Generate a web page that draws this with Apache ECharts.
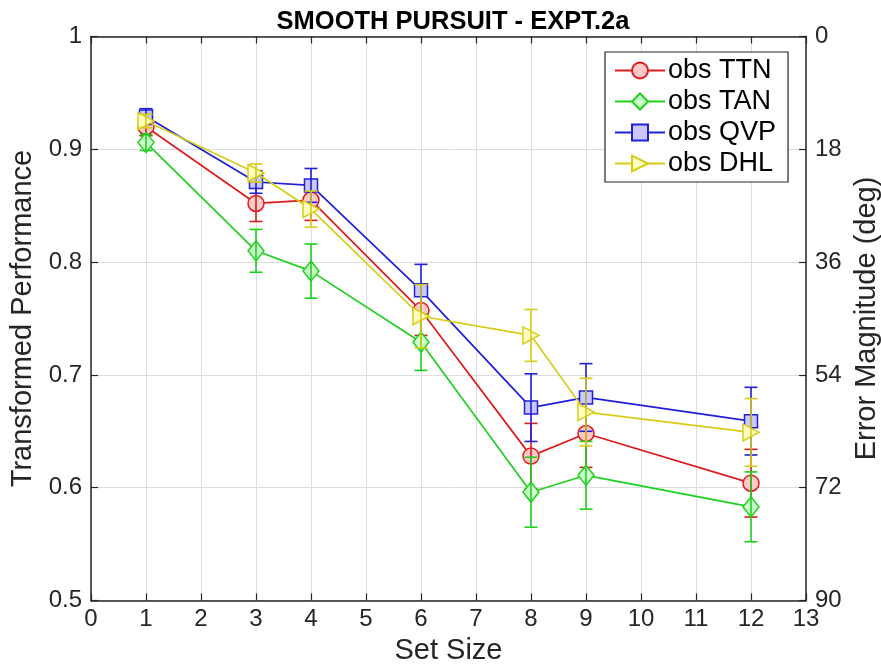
<!DOCTYPE html>
<html>
<head>
<meta charset="utf-8">
<title>Smooth Pursuit - Expt.2a</title>
<script src="https://cdn.jsdelivr.net/npm/echarts@6/dist/echarts.min.js"></script>
<style>
  html, body { margin: 0; padding: 0; background: #fff; }
  #main { width: 881px; height: 664px; }
</style>
</head>
<body>
<div id="main"></div>
<script>
var setSizes = [1, 3, 4, 6, 8, 9, 12];
var ttn = [0.920, 0.852, 0.855, 0.757, 0.628, 0.648, 0.604];
var ttnErr = [0.008, 0.016, 0.018, 0.022, 0.029, 0.030, 0.030];
var tan = [0.906, 0.810, 0.792, 0.729, 0.596, 0.611, 0.583];
var tanErr = [0.007, 0.019, 0.024, 0.025, 0.031, 0.030, 0.031];
var qvp = [0.929, 0.871, 0.868, 0.775, 0.671, 0.680, 0.659];
var qvpErr = [0.007, 0.010, 0.015, 0.023, 0.030, 0.030, 0.030];
var dhl = [0.925, 0.879, 0.847, 0.752, 0.735, 0.667, 0.649];
var dhlErr = [0.006, 0.008, 0.016, 0.028, 0.023, 0.030, 0.030];
var rightTicks = [0, 18, 36, 54, 72, 90];

var FONT = 'Liberation Sans, Arial, Helvetica, sans-serif';
var AX = '#262626';

// the four groups: name, values, errors, colors, marker
var groups = [
    { name: 'obs TTN', val: ttn, err: ttnErr, line: '#e01b1b', fill: '#ffcaca', symbol: 'circle', size: 16, rot: 0 },
    { name: 'obs TAN', val: tan, err: tanErr, line: '#1fd11f', fill: '#ccffcc', symbol: 'diamond', size: [16, 20], rot: 0 },
    { name: 'obs QVP', val: qvp, err: qvpErr, line: '#1f1fdc', fill: '#c9c9ff', symbol: 'rect', size: 13, rot: 0 },
    { name: 'obs DHL', val: dhl, err: dhlErr, line: '#d6cc14', fill: '#ffffc2', symbol: 'triangle', size: [17, 16], rot: -90 }
];

function errRender(color) {
    return function (params, api) {
        var x = api.value(0);
        var top = api.coord([x, api.value(2)]);
        var bot = api.coord([x, api.value(1)]);
        var w = 6.5;
        var st = { stroke: color, lineWidth: 1.6 };
        return {
            type: 'group',
            children: [
                { type: 'line', shape: { x1: top[0], y1: top[1], x2: bot[0], y2: bot[1] }, style: st },
                { type: 'line', shape: { x1: top[0] - w, y1: top[1], x2: top[0] + w, y2: top[1] }, style: st },
                { type: 'line', shape: { x1: bot[0] - w, y1: bot[1], x2: bot[0] + w, y2: bot[1] }, style: st }
            ]
        };
    };
}

var series = [];
groups.forEach(function (g, i) {
    series.push({
        name: g.name,
        type: 'line',
        z: 3 + i * 2,
        data: setSizes.map(function (s, k) { return [s, g.val[k]]; }),
        symbol: g.symbol,
        symbolSize: g.size,
        symbolRotate: g.rot,
        showAllSymbol: true,
        lineStyle: { color: g.line, width: 1.7 },
        itemStyle: { color: g.fill, borderColor: g.line, borderWidth: 1.5 },
        emphasis: { disabled: true },
        animation: false
    });
    series.push({
        name: g.name + ' err',
        type: 'custom',
        z: 4 + i * 2,
        renderItem: errRender(g.line),
        data: setSizes.map(function (s, k) { return [s, g.val[k] - g.err[k], g.val[k] + g.err[k]]; }),
        silent: true,
        animation: false
    });
});

var myChart = echarts.init(document.getElementById('main'));
myChart.setOption({
    backgroundColor: '#fff',
    animation: false,
    textStyle: { fontFamily: FONT },
    title: {
        text: 'SMOOTH PURSUIT - EXPT.2a',
        left: 448,
        textAlign: 'center',
        top: 4,
        textStyle: { fontFamily: FONT, fontSize: 25.5, fontWeight: 'bold', color: '#000' }
    },
    grid: { left: 91, right: 75, top: 36.5, bottom: 63.5, outerBoundsMode: 'none', containLabel: false },
    legend: {
        data: groups.map(function (g) { return g.name; }),
        orient: 'vertical',
        left: 605,
        top: 52,
        itemWidth: 50,
        itemHeight: 20,
        itemGap: 4,
        padding: [5, 12, 5, 9],
        backgroundColor: '#fff',
        borderColor: AX,
        borderWidth: 1.2,
        textStyle: { fontFamily: FONT, fontSize: 27, color: '#000', padding: [0, 0, 0, -2] }
    },
    xAxis: [{
        type: 'value',
        min: 0,
        max: 13,
        interval: 1,
        name: 'Set Size',
        nameLocation: 'middle',
        nameGap: 31,
        nameTextStyle: { fontFamily: FONT, fontSize: 29, color: AX },
        axisLine: { show: true, onZero: false, lineStyle: { color: AX, width: 1.5 } },
        axisTick: { inside: true, length: 7, lineStyle: { color: AX, width: 1.2 } },
        axisLabel: { fontFamily: FONT, fontSize: 24, color: AX, margin: 7 },
        splitLine: { show: true, lineStyle: { color: '#dedede', width: 1 } }
    }, {
        type: 'value',
        position: 'top',
        min: 0,
        max: 13,
        interval: 1,
        axisLine: { show: true, onZero: false, lineStyle: { color: AX, width: 1.5 } },
        axisTick: { inside: true, length: 7, lineStyle: { color: AX, width: 1.2 } },
        axisLabel: { show: false },
        splitLine: { show: false }
    }],
    yAxis: [{
        type: 'value',
        min: 0.5,
        max: 1,
        interval: 0.1,
        name: 'Transformed Performance',
        nameLocation: 'middle',
        nameRotate: 90,
        nameGap: 47,
        nameTextStyle: { fontFamily: FONT, fontSize: 29, color: AX },
        axisLine: { show: true, onZero: false, lineStyle: { color: AX, width: 1.5 } },
        axisTick: { inside: true, length: 7, lineStyle: { color: AX, width: 1.2 } },
        axisLabel: {
            fontFamily: FONT, fontSize: 24, color: AX, margin: 9,
            formatter: function (v) { return String(Math.round(v * 10) / 10); }
        },
        splitLine: { show: true, lineStyle: { color: '#dedede', width: 1 } }
    }, {
        type: 'value',
        position: 'right',
        min: rightTicks[0],
        max: rightTicks[rightTicks.length - 1],
        interval: 18,
        inverse: true,
        name: 'Error Magnitude (deg)',
        nameLocation: 'middle',
        nameRotate: 90,
        nameGap: 44,
        nameTextStyle: { fontFamily: FONT, fontSize: 29, color: AX },
        axisLine: { show: true, onZero: false, lineStyle: { color: AX, width: 1.5 } },
        axisTick: { inside: true, length: 7, lineStyle: { color: AX, width: 1.2 } },
        axisLabel: { fontFamily: FONT, fontSize: 24, color: AX, margin: 9 },
        splitLine: { show: false }
    }],
    series: series
});

window.addEventListener('resize', function () {
    myChart.resize();
});
</script>
</body>
</html>
